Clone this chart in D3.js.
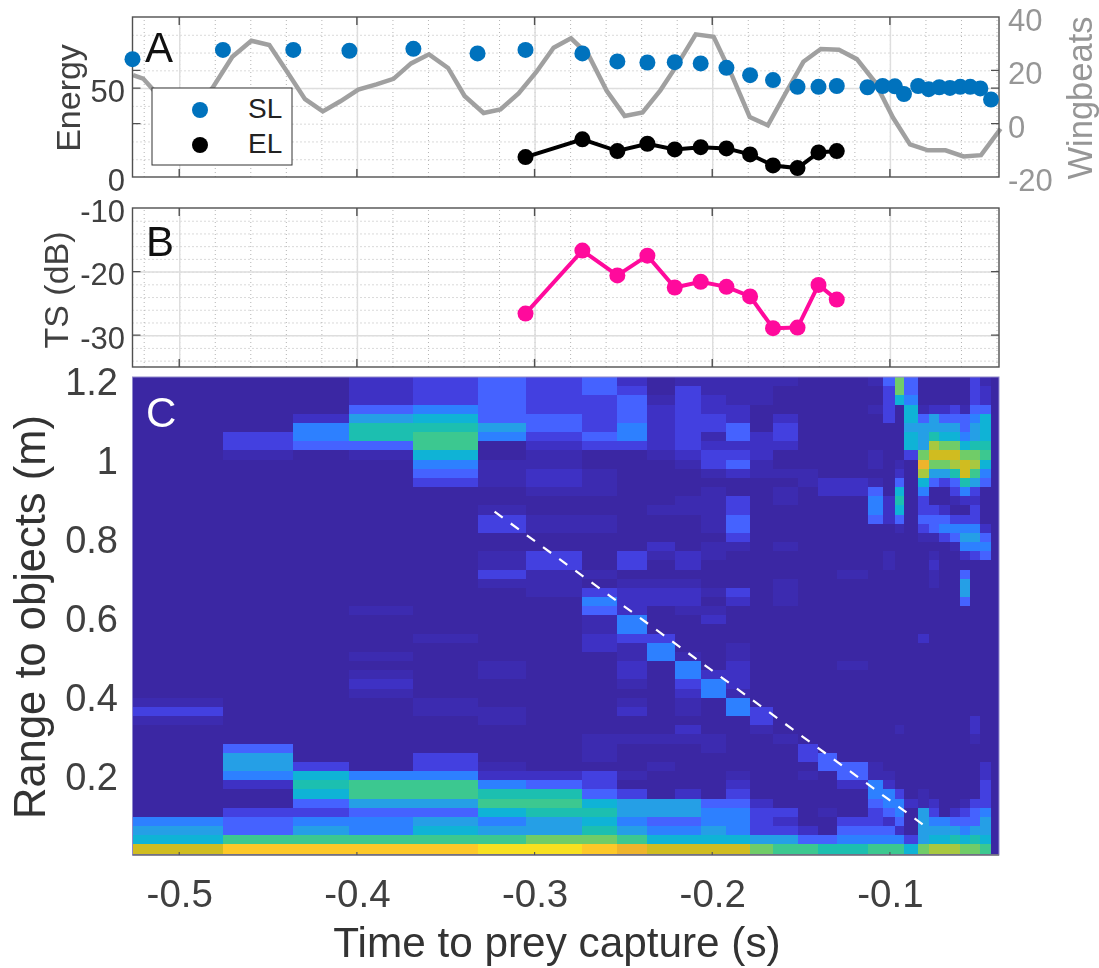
<!DOCTYPE html>
<html>
<head>
<meta charset="utf-8">
<script src="https://cdn.jsdelivr.net/npm/d3@7"></script>
<style>
  html, body { margin: 0; padding: 0; background: #fff; }
  svg { display: block; filter: blur(0.45px); }
  text { font-family: "Liberation Sans", Arial, sans-serif; }
</style>
</head>
<body>
<div class="chart"></div>
<script>
// ping times (s), one per call. every call has a source level, heat columns start at each ping
var pingTimes = [-0.5263, -0.4754, -0.4358, -0.4042, -0.3682, -0.3321, -0.3051, -0.2731, -0.2534, -0.2365,
  -0.2211, -0.2065, -0.1920, -0.1787, -0.1658, -0.1520, -0.1402, -0.1299, -0.1126, -0.1041,
  -0.0972, -0.0921, -0.0841, -0.0782, -0.0722, -0.0662, -0.0604, -0.0548, -0.0491, -0.0431];
var sourceLevel = [66.3, 71.5, 71.5, 71, 72.1, 69.5, 71.5, 69.5, 65, 64.4,
  64.6, 63.9, 61.4, 57.3, 54.5, 50.7, 50.7, 51.2, 50.5, 51.2,
  51, 46.7, 51.2, 49.4, 50.5, 50.1, 50.7, 50.7, 49.8, 43.6];

// echo level and target strength only exist for pings 6 to 17
var echoTimes = pingTimes.slice(6, 18);
var echoLevel = [11.2, 21.2, 14.6, 18.7, 15.5, 16.8, 16.1, 12.7, 6.5, 5, 13.8, 14.6];
var targetStrength = [-26.6, -16.7, -20.6, -17.5, -22.5, -21.6, -22.4, -23.9, -28.9, -28.8, -22.1, -24.4];

var wingTimes = [-0.526, -0.5203, -0.5144, -0.5051, -0.4938, -0.4811, -0.4701, -0.4594, -0.4493, -0.4392,
  -0.4292, -0.4192, -0.4093, -0.3992, -0.3890, -0.3794, -0.3695, -0.3594, -0.3487, -0.3394,
  -0.3287, -0.3192, -0.3090, -0.2990, -0.2893, -0.2795, -0.2696, -0.2594, -0.2493, -0.2392,
  -0.2292, -0.2192, -0.2093, -0.1992, -0.1890, -0.1789, -0.1687, -0.1588, -0.1487, -0.1389,
  -0.1287, -0.1186, -0.1085, -0.0983, -0.0887, -0.0786, -0.0687, -0.0586, -0.0487, -0.0377];
var wingValues = [18.2, 16.9, 12.5, 6, 4, 13.6, 25.1, 31.1, 29.5, 19.4,
  9.2, 4.6, 8.4, 12.8, 14.7, 16.8, 22.6, 26, 20.9, 10.4,
  4, 5.3, 11.3, 19.4, 28.5, 32, 25.7, 12.3, 2.9, 4.2,
  12.5, 22.6, 33.5, 32.6, 18.2, 2.5, -0.6, 11.3, 23.2, 28,
  27.7, 24.2, 15.7, 2.3, -7.8, -10, -10, -12.3, -11.8, -1.9];

// prey track in panel C (time, range)
var trackTimes = [-0.3225, -0.0797];
var trackRange = [0.869, 0.0716];

// heat map levels 0-f, one string per column, first char is the top range bin (52 bins)
var heatColumns = [
  "0000000000 0000000000 0000000000 0000013100 0000000056 7c",
  "0000003310 0000000000 0000000000 0000000000 4665200344 9e",
  "0000255400 0000000000 0000000000 0000000000 0037874356 9e",
  "2224688410 0000000000 0000010000 1012100000 0005996455 9e",
  "3335789975 4300000000 0000000010 0000011000 0335996467 9e",
  "4444465001 1100133001 1310000000 0110001100 0012589756 9f",
  "3333443211 2210011003 3111000000 0000000000 0002489866 af",
  "4433334300 1110011000 0103541122 0000000001 1103347878 ae",
  "2344455300 0000000003 3012225531 1221012001 0001036656 9d",
  "0012222210 0000100021 0012200035 5000000001 0010006645 7c",
  "1333333321 0001100002 2012210000 1553211021 0000026645 7c",
  "1122331233 1011111011 0001012000 0025500001 1000004556 7c",
  "1112244234 2003344310 0003200001 1222155000 0001234555 7c",
  "1110002221 1000000000 0000000000 0000003310 0000002333 6a",
  "1000233200 1011000010 0011100000 0000000001 0000000323 69",
  "0000000000 1100000000 0000000000 0000000000 3301000002 49",
  "0000000000 0220000000 0000000000 0000000000 0440000100 48",
  "0000000000 0220000000 0100000000 0100000000 0044200034 58",
  "1001000011 0145540000 0000000000 0000000000 0011554334 59",
  "4333300000 0002220001 1000000000 0000000000 0001255424 59",
  "aa70000001 2478741000 0000000000 0000000010 0000035542 59",
  "4457767730 0000000000 0000000000 0000000000 0000002000 37",
  "00014666ad b753343100 0000000020 0000000000 0000011666 6a",
  "0002668bca 6400344101 2110000000 0000000000 0000002356 7b",
  "0002467aca 6300245300 0000000000 0000000000 0000000056 7b",
  "0003467acb 8431035410 0000000000 0000000000 0000000246 8b",
  "00014457ac c852035652 0466400000 0000000000 0000001345 7a",
  "33345668ab 9632335653 0000000000 0000000221 0000003446 8a",
  "1224777897 5400002454 0000000000 0000000000 0022333566 79"
];
var heatColors = ["#3b27a3", "#3c2bb0", "#3e31c4", "#4340e0", "#4562ff", "#2d80ff", "#259fe6", "#0fb3d6",
  "#1cbfb0", "#3cc890", "#70cc68", "#a8c840", "#d0bc20", "#eeb42c", "#fdc828", "#f8e020"];

// tick labels
var xTicks = [-0.5, -0.4, -0.3, -0.2, -0.1];
var xMinorTicks = d3.range(-0.52, -0.03, 0.02);
var energyTicks = [0, 50];
var wingTicks = [-20, 0, 20, 40];
var energyMinorTicks = d3.range(10, 90, 10);
var tsTicks = [-10, -20, -30];
var tsMinorTicks = d3.range(-34, -10, 2);
var rangeTicks = [0.2, 0.4, 0.6, 0.8, 1, 1.2];
var legendLabels = ["SL", "EL"];

var rangeBin = 0.0232,
    rangeBase = 0.0035;

// layout
var width = 1099, height = 968,
    left = 132.5, right = 999,
    tickColor = "#404040";

var svg = d3.select(".chart").append("svg")
    .attr("width", width)
    .attr("height", height);

var x = d3.scaleLinear().domain([-0.5263, -0.0386]).range([left, right]);
var yEnergy = d3.scaleLinear().domain([0, 90]).range([177, 17]);
var yWing = d3.scaleLinear().domain([-20, 40]).range([177, 17]);
var yTs = d3.scaleLinear().domain([-35, -10]).range([367, 208]);
var yRange = d3.scaleLinear().domain([0, 1.21]).range([855, 377]);
var heatColor = d3.scaleOrdinal().domain(d3.range(16)).range(heatColors);

var line = function(xs, ys, yScale) {
  return d3.line().x((d, i) => x(xs[i])).y(d => yScale(d))(ys);
};

// plain hyphen in the labels, not the d3 minus sign
var hyphenInt = d => d3.format("d")(d).replace("\u2212", "-");
var hyphenOne = d => d3.format(".1f")(d).replace("\u2212", "-");

// dotted + solid grid for panels A and B
function drawGrid(top, bottom, yScale, minor, major) {
  var h = bottom - top;
  var g = svg.append("g");
  g.append("g").attr("transform", "translate(0," + bottom + ")")
    .call(d3.axisBottom(x).tickValues(xMinorTicks).tickSize(-h).tickFormat(""))
    .call(s => s.select(".domain").remove())
    .selectAll("line").attr("stroke", "#b4b4b4").attr("stroke-dasharray", "1 3");
  g.append("g").attr("transform", "translate(" + left + ",0)")
    .call(d3.axisLeft(yScale).tickValues(minor).tickSize(-(right - left)).tickFormat(""))
    .call(s => s.select(".domain").remove())
    .selectAll("line").attr("stroke", "#b4b4b4").attr("stroke-dasharray", "1 3");
  g.append("g").attr("transform", "translate(0," + bottom + ")")
    .call(d3.axisBottom(x).tickValues(xTicks).tickSize(-h).tickFormat(""))
    .call(s => s.select(".domain").remove())
    .selectAll("line").attr("stroke", "#dedede").attr("stroke-width", 1.5);
  g.append("g").attr("transform", "translate(" + left + ",0)")
    .call(d3.axisLeft(yScale).tickValues(major).tickSize(-(right - left)).tickFormat(""))
    .call(s => s.select(".domain").remove())
    .selectAll("line").attr("stroke", "#dedede").attr("stroke-width", 1.5);
}

// frame and inward tick marks
function drawFrame(top, bottom, ticksY) {
  var g = svg.append("g");
  g.append("rect")
    .attr("x", left).attr("y", top)
    .attr("width", right - left).attr("height", bottom - top)
    .attr("fill", "none").attr("stroke", "#505050").attr("stroke-width", 1.4);
  g.selectAll(".tx").data(xTicks).enter().append("path")
    .attr("d", d => "M" + x(d) + "," + bottom + "v-8M" + x(d) + "," + top + "v8")
    .attr("stroke", "#505050").attr("stroke-width", 1.4);
  g.selectAll(".ty").data(ticksY).enter().append("path")
    .attr("d", d => "M" + left + "," + d + "h8M" + right + "," + d + "h-8")
    .attr("stroke", "#505050").attr("stroke-width", 1.2);
}

function tickLabels(axis, posX, size, color, dy) {
  var g = svg.append("g").attr("transform", "translate(" + posX + ",0)").call(axis);
  g.select(".domain").remove();
  g.selectAll("line").remove();
  g.selectAll("text")
    .attr("x", 0).attr("dy", dy)
    .style("font-size", size + "px")
    .style("font-family", '"Liberation Sans", Arial, sans-serif')
    .attr("fill", color);
  return g;
}

function vLabel(txt, cx, cy, size, color) {
  svg.append("text")
    .attr("transform", "translate(" + cx + "," + cy + ") rotate(-90)")
    .attr("text-anchor", "middle")
    .style("font-size", size + "px")
    .attr("fill", color)
    .text(txt);
}

function panelLetter(txt, px, py, color) {
  svg.append("text").attr("x", px).attr("y", py)
    .style("font-size", "42px").attr("fill", color).text(txt);
}

// PANEL A
drawGrid(17, 177, yEnergy, energyMinorTicks, [50]);
svg.append("path")
  .attr("d", line(wingTimes, wingValues, yWing))
  .attr("fill", "none").attr("stroke", "#a0a0a0").attr("stroke-width", 4.5);
drawFrame(17, 177, [yEnergy(50), yWing(0), yWing(20)]);

svg.append("path")
  .attr("d", line(echoTimes, echoLevel, yEnergy))
  .attr("fill", "none").attr("stroke", "#000").attr("stroke-width", 4);
svg.selectAll(".el").data(echoLevel).enter().append("circle")
  .attr("cx", (d, i) => x(echoTimes[i])).attr("cy", d => yEnergy(d))
  .attr("r", 8).attr("fill", "#000");
svg.selectAll(".sl").data(sourceLevel).enter().append("circle")
  .attr("cx", (d, i) => x(pingTimes[i])).attr("cy", d => yEnergy(d))
  .attr("r", 8).attr("fill", "#0072bd");

tickLabels(d3.axisLeft(yEnergy).tickValues(energyTicks).tickFormat(hyphenInt), 125, 31, tickColor, "0.43em");
tickLabels(d3.axisRight(yWing).tickValues(wingTicks).tickFormat(hyphenInt), 1008, 31, "#969696", "0.43em");
vLabel("Energy", 80, 98, 34, tickColor);
vLabel("Wingbeats", 1092, 98, 34.5, "#969696");
panelLetter("A", 145, 62, "#111");

// legend
var legend = svg.append("g").attr("transform", "translate(152,88)");
legend.append("rect").attr("width", 140).attr("height", 77)
  .attr("fill", "#fff").attr("stroke", "#333").attr("stroke-width", 1);
legendLabels.forEach(function(l, i) {
  legend.append("circle").attr("cx", 48).attr("cy", 22 + i * 35)
    .attr("r", 8).attr("fill", i == 0 ? "#0072bd" : "#000");
  legend.append("text").attr("x", 96).attr("y", 30 + i * 35)
    .style("font-size", "28px").attr("fill", "#222").text(l);
});

// PANEL B
drawGrid(208, 367, yTs, tsMinorTicks, [-20, -30]);
drawFrame(208, 367, [yTs(-20), yTs(-30)]);
svg.append("path")
  .attr("d", line(echoTimes, targetStrength, yTs))
  .attr("fill", "none").attr("stroke", "#ff0a9c").attr("stroke-width", 4);
svg.selectAll(".ts").data(targetStrength).enter().append("circle")
  .attr("cx", (d, i) => x(echoTimes[i])).attr("cy", d => yTs(d))
  .attr("r", 8).attr("fill", "#ff0a9c");
tickLabels(d3.axisLeft(yTs).tickValues(tsTicks).tickFormat(hyphenInt), 125, 31, tickColor, "0.43em");
vLabel("TS (dB)", 68, 290, 34, tickColor);
panelLetter("B", 146, 256, "#111");

// PANEL C
svg.append("rect")
  .attr("x", left).attr("y", yRange(1.21))
  .attr("width", right - left).attr("height", yRange(0) - yRange(1.21))
  .attr("fill", heatColors[0]);

var heatCells = [];
heatColumns.forEach(function(col, c) {
  col.replace(/ /g, "").split("").forEach(function(ch, j) {
    var level = parseInt(ch, 16);
    if (level > 0) heatCells.push({c: c, row: 51 - j, level: level});
  });
});

svg.selectAll(".cell").data(heatCells).enter().append("rect")
  .attr("x", d => x(pingTimes[d.c]))
  .attr("width", d => x(pingTimes[d.c + 1]) - x(pingTimes[d.c]))
  .attr("y", d => yRange(rangeBase + (d.row + 1) * rangeBin))
  .attr("height", yRange(0) - yRange(rangeBin))
  .attr("fill", d => heatColor(d.level))
  .attr("shape-rendering", "crispEdges");

svg.append("path")
  .attr("d", line(trackTimes, trackRange, yRange))
  .attr("stroke", "#fff").attr("stroke-width", 2.2).attr("stroke-dasharray", "10 10").attr("fill", "none");

svg.append("rect")
  .attr("x", left).attr("y", 377)
  .attr("width", right - left).attr("height", 478)
  .attr("fill", "none").attr("stroke", "#8f88cc").attr("stroke-width", 1);
svg.append("line")
  .attr("x1", left).attr("x2", right).attr("y1", 855).attr("y2", 855)
  .attr("stroke", "#777").attr("stroke-width", 1.5);
svg.selectAll(".txc").data(xTicks).enter().append("line")
  .attr("x1", d => x(d)).attr("x2", d => x(d)).attr("y1", 855).attr("y2", 852)
  .attr("stroke", "#555").attr("stroke-width", 1.2);

tickLabels(d3.axisLeft(yRange).tickValues(rangeTicks).tickFormat(d => d), 118, 38, tickColor, "0.35em");
var xLabels = svg.append("g").attr("transform", "translate(0,855)")
  .call(d3.axisBottom(x).tickValues(xTicks).tickFormat(hyphenOne));
xLabels.select(".domain").remove();
xLabels.selectAll("line").remove();
xLabels.selectAll("text")
  .attr("y", 51.5).attr("dy", 0)
  .style("font-size", "38.5px")
  .style("font-family", '"Liberation Sans", Arial, sans-serif')
  .attr("fill", tickColor);

vLabel("Range to objects (m)", 45, 617, 43.5, "#333");
svg.append("text").attr("x", 557).attr("y", 957)
  .attr("text-anchor", "middle")
  .style("font-size", "42.3px").attr("fill", "#333")
  .text("Time to prey capture (s)");
panelLetter("C", 146, 427, "#fff");
</script>
</body>
</html>
